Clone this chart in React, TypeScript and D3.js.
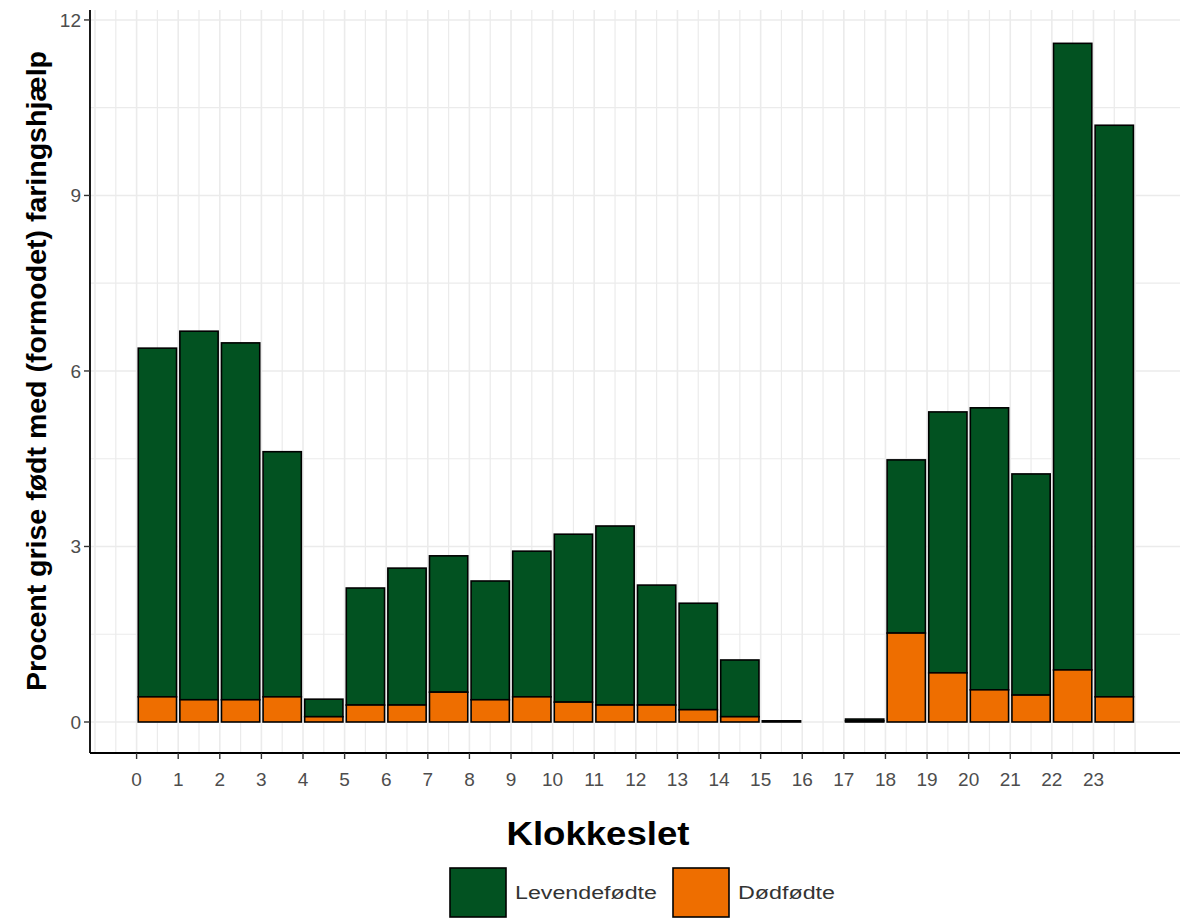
import { useEffect } from "react";
import * as d3 from "d3";

// hours of the day (x categories)
const hours = d3.range(0, 24);

// percent of piglets born with (assumed) farrowing help
const levendefodte = [
  5.96, 6.3, 6.1, 4.19, 0.3, 2.0, 2.34, 2.33, 2.03, 2.49, 2.87, 3.06,
  2.05, 1.82, 0.97, 0.02, null, 0.03, 2.96, 4.46, 4.82, 3.78, 10.71, 9.77,
];
const dodfodte = [
  0.43, 0.38, 0.38, 0.43, 0.09, 0.29, 0.29, 0.51, 0.38, 0.43, 0.34, 0.29,
  0.29, 0.21, 0.09, 0.0, null, 0.02, 1.52, 0.84, 0.55, 0.46, 0.89, 0.43,
];

const yTicks = [0, 3, 6, 9, 12];
const seriesNames = ["Levendefødte", "Dødfødte"];
const colors = ["#025221", "#ee6e00"];

const W = 1189;
const H = 920;
const margin = { top: 10, right: 9, bottom: 167, left: 90 };

export default function App() {
  useEffect(() => {
    document.body.style.margin = "0";
  }, []);

  const x = d3
    .scaleLinear()
    .domain([-1.12, 25.08])
    .range([margin.left, W - margin.right]);
  const y = d3
    .scaleLinear()
    .domain([-0.53, 12.17])
    .range([H - margin.bottom, margin.top]);

  const vGrid = d3.range(-1, 24.01, 0.5);
  const hGrid = d3.range(0, 12.01, 1.5);
  const barW = 0.92;
  const font = "'Liberation Sans', Arial, sans-serif";
  const bottom = H - margin.bottom;

  return (
    <svg width={W} height={H} style={{ display: "block", background: "#fff" }}>
      {/* grid */}
      <g stroke="#ebebeb">
        {vGrid.map((v) => (
          <line
            key={"v" + v}
            x1={x(v)}
            x2={x(v)}
            y1={margin.top}
            y2={bottom}
            strokeWidth={Number.isInteger(v) ? 1.6 : 1.2}
          />
        ))}
        {hGrid.map((v) => (
          <line
            key={"h" + v}
            x1={margin.left}
            x2={W - margin.right}
            y1={y(v)}
            y2={y(v)}
            strokeWidth={v % 3 === 0 ? 1.6 : 1.2}
          />
        ))}
      </g>

      {/* stacked bars */}
      <g stroke="#000" strokeWidth={1.6}>
        {hours.map((h, i) => {
          const dead = dodfodte[i];
          const live = levendefodte[i];
          if (dead == null || live == null) return null;
          const x0 = x(h + 0.5 - barW / 2);
          const bw = x(h + 0.5 + barW / 2) - x0;
          return (
            <g key={h}>
              <rect
                x={x0}
                y={y(dead + live)}
                width={bw}
                height={y(dead) - y(dead + live)}
                fill={colors[0]}
              />
              <rect
                x={x0}
                y={y(dead)}
                width={bw}
                height={y(0) - y(dead)}
                fill={colors[1]}
              />
            </g>
          );
        })}
      </g>

      {/* axes */}
      <g fontFamily={font} fontSize={19} fill="#4d4d4d">
        <line x1={margin.left} x2={margin.left} y1={margin.top} y2={bottom} stroke="#000" strokeWidth={1.8} />
        <line x1={margin.left} x2={W - margin.right} y1={bottom} y2={bottom} stroke="#000" strokeWidth={1.8} />
        {yTicks.map((t) => (
          <g key={"yt" + t}>
            <line x1={margin.left - 6} x2={margin.left} y1={y(t)} y2={y(t)} stroke="#333" strokeWidth={1.4} />
            <text x={margin.left - 9} y={y(t)} dy="0.35em" textAnchor="end">
              {t}
            </text>
          </g>
        ))}
        {hours.map((h) => (
          <g key={"xt" + h}>
            <line x1={x(h)} x2={x(h)} y1={bottom} y2={bottom + 6} stroke="#333" strokeWidth={1.4} />
            <text x={x(h)} y={bottom + 33} textAnchor="middle">
              {h}
            </text>
          </g>
        ))}
      </g>

      {/* titles */}
      <text
        x={598}
        y={845}
        textAnchor="middle"
        fontFamily={font}
        fontWeight="bold"
        fontSize={33}
        textLength={183}
        lengthAdjust="spacingAndGlyphs"
        fill="#000"
      >
        Klokkeslet
      </text>
      <text
        transform={`translate(46, 371) rotate(-90)`}
        textAnchor="middle"
        fontFamily={font}
        fontWeight="bold"
        fontSize={27}
        textLength={640}
        lengthAdjust="spacingAndGlyphs"
        fill="#000"
      >
        Procent grise født med (formodet) faringshjælp
      </text>

      {/* legend */}
      <g fontFamily={font} fontSize={18} fill="#333">
        {seriesNames.map((name, i) => {
          const lx = i === 0 ? 450 : 673;
          return (
            <g key={name}>
              <rect x={lx} y={868} width={56} height={49} fill={colors[i]} stroke="#000" strokeWidth={1.6} />
              <text
                x={lx + 65}
                y={893}
                dy="0.35em"
                textLength={i === 0 ? 142 : 97}
                lengthAdjust="spacingAndGlyphs"
              >
                {name}
              </text>
            </g>
          );
        })}
      </g>
    </svg>
  );
}
